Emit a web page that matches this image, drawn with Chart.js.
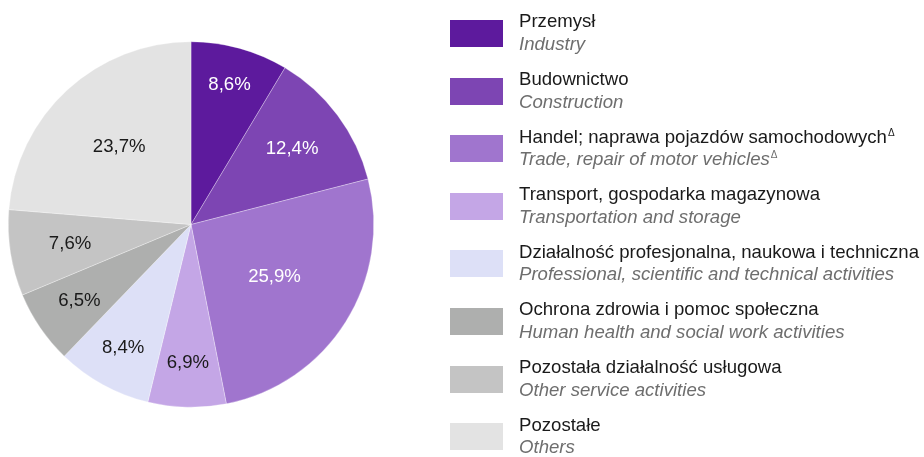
<!DOCTYPE html>
<html>
<head>
<meta charset="utf-8">
<script src="https://cdn.jsdelivr.net/npm/chart.js@4/dist/chart.umd.min.js"></script>
<style>
  html, body { margin: 0; padding: 0; background: #ffffff; }
  #wrap { position: relative; width: 924px; height: 457px; overflow: hidden; }
  #chart { position: absolute; left: 0; top: 0; }
  #legend { position: absolute; left: 0; top: 0; width: 924px; height: 457px; font-family: "Liberation Sans", Arial, sans-serif; }
  .item { position: absolute; left: 450px; }
  .sw { position: absolute; left: 0; width: 53px; height: 27px; }
  .txt { position: absolute; left: 69px; white-space: nowrap; font-size: 18.6px; line-height: 22.5px; }
  .pl, .en { height: 22.5px; }
  .pl { color: #1a1a1a; }
  .en { color: #6e6e6e; font-style: italic; }
  .tri { font-size: 10px; line-height: 0; position: relative; top: -7px; font-style: normal; margin-left: 1px; }
</style>
</head>
<body>
<div id="wrap">
  <canvas id="chart" width="924" height="457"></canvas>
  <div id="legend"></div>
</div>
<script>
const categoriesPl = [
  "Przemysł",
  "Budownictwo",
  "Handel; naprawa pojazdów samochodowych",
  "Transport, gospodarka magazynowa",
  "Działalność profesjonalna, naukowa i techniczna",
  "Ochrona zdrowia i pomoc społeczna",
  "Pozostała działalność usługowa",
  "Pozostałe"
];
const categoriesEn = [
  "Industry",
  "Construction",
  "Trade, repair of motor vehicles",
  "Transportation and storage",
  "Professional, scientific and technical activities",
  "Human health and social work activities",
  "Other service activities",
  "Others"
];
const footnoteMark = [false, false, true, false, false, false, false, false];
const values = [8.6, 12.4, 25.9, 6.9, 8.4, 6.5, 7.6, 23.7];

// styling
const colors = ["#5d1a9d", "#7d45b3", "#a075ce", "#c4a6e6", "#dde0f7", "#aeafae", "#c4c4c4", "#e3e3e3"];
const labelColors = ["#ffffff", "#ffffff", "#ffffff", "#1a1a1a", "#1a1a1a", "#1a1a1a", "#1a1a1a", "#1a1a1a"];
const labelRadius = [0.79, 0.69, 0.54, 0.76, 0.77, 0.74, 0.67, 0.58];

const sliceLabels = {
  id: 'sliceLabels',
  afterDatasetsDraw(chart) {
    const ctx = chart.ctx;
    const meta = chart.getDatasetMeta(0);
    ctx.save();
    ctx.font = '18.6px "Liberation Sans", Arial, sans-serif';
    ctx.textAlign = 'center';
    ctx.textBaseline = 'middle';
    meta.data.forEach((arc, i) => {
      const p = arc.getProps(['x', 'y', 'startAngle', 'endAngle', 'outerRadius'], true);
      const mid = (p.startAngle + p.endAngle) / 2;
      const r = p.outerRadius * labelRadius[i];
      ctx.fillStyle = labelColors[i];
      const txt = values[i].toFixed(1).replace('.', ',') + '%';
      ctx.fillText(txt, p.x + Math.cos(mid) * r, p.y + Math.sin(mid) * r);
    });
    ctx.restore();
  }
};

new Chart(document.getElementById('chart'), {
  type: 'pie',
  data: {
    labels: categoriesPl,
    datasets: [{
      data: values,
      backgroundColor: colors,
      borderColor: 'rgba(255,255,255,0.6)',
      borderWidth: 0.5,
      hoverOffset: 0
    }]
  },
  options: {
    responsive: false,
    animation: false,
    events: [],
    layout: { padding: { left: 8, right: 550, top: 41, bottom: 49 } },
    plugins: { legend: { display: false }, tooltip: { enabled: false } }
  },
  plugins: [sliceLabels]
});

// HTML legend
const legend = document.getElementById('legend');
categoriesPl.forEach((pl, i) => {
  const top = 20 + i * 57.6;
  const item = document.createElement('div');
  item.className = 'item';
  item.style.top = top + 'px';
  const sw = document.createElement('div');
  sw.className = 'sw';
  sw.style.top = '0px';
  sw.style.background = colors[i];
  const txt = document.createElement('div');
  txt.className = 'txt';
  txt.style.top = '-9.6px';
  const l1 = document.createElement('div');
  l1.className = 'pl';
  l1.textContent = pl;
  const l2 = document.createElement('div');
  l2.className = 'en';
  l2.textContent = categoriesEn[i];
  if (footnoteMark[i]) {
    const s1 = document.createElement('span'); s1.className = 'tri'; s1.textContent = 'Δ'; l1.appendChild(s1);
    const s2 = document.createElement('span'); s2.className = 'tri'; s2.textContent = 'Δ'; l2.appendChild(s2);
  }
  txt.appendChild(l1); txt.appendChild(l2);
  item.appendChild(sw); item.appendChild(txt);
  legend.appendChild(item);
});
</script>
</body>
</html>
